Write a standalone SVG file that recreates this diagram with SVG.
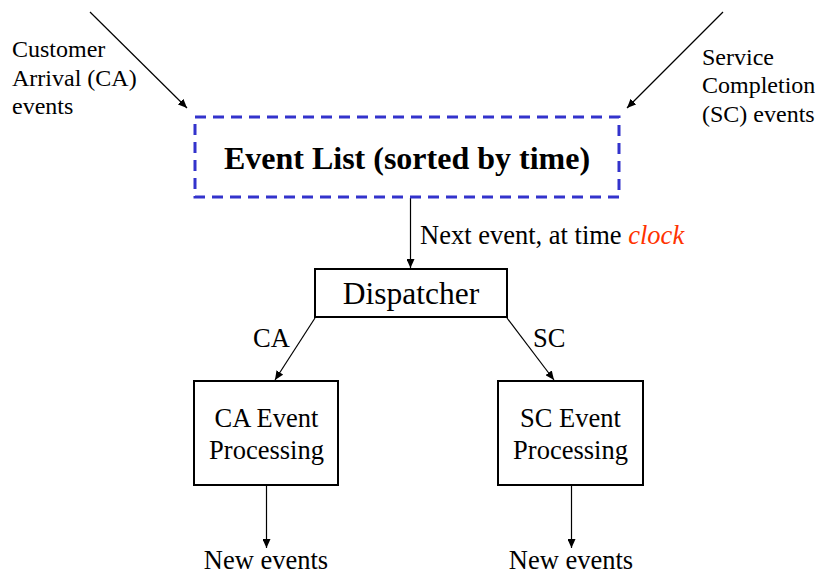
<svg xmlns="http://www.w3.org/2000/svg" width="815" height="574" viewBox="0 0 815 574">
  <style>
    text { font-family: "Liberation Serif", "Times New Roman", serif; fill: #000; }
    .side { font-size: 24px; }
    .lbl { font-size: 26.5px; }
    .box { fill: #fff; stroke: #000; stroke-width: 2; }
    .conn { fill: none; stroke: #000; stroke-width: 1.2; marker-end: url(#arrow); }
  </style>
  <defs>
    <marker id="arrow" markerUnits="userSpaceOnUse" markerWidth="10" markerHeight="8" refX="9" refY="4" orient="auto">
      <path d="M0,0 L9,4 L0,8 Z" fill="#000"/>
    </marker>
  </defs>

  <!-- connectors -->
  <g id="connectors">
    <line class="conn" x1="90" y1="12" x2="187" y2="108"/>
    <line class="conn" x1="723" y1="12" x2="627" y2="108"/>
    <line class="conn" x1="410.5" y1="198" x2="410.5" y2="268"/>
    <line class="conn" x1="315" y1="318" x2="275" y2="380"/>
    <line class="conn" x1="507" y1="318" x2="554" y2="380"/>
    <line class="conn" x1="266.5" y1="486" x2="266.5" y2="548"/>
    <line class="conn" x1="571.5" y1="486" x2="571.5" y2="548"/>
  </g>

  <!-- edge labels -->
  <g id="edge-labels">
    <text class="lbl" x="420" y="244">Next event, at time <tspan fill="#ff3300" font-style="italic">clock</tspan></text>
    <text class="lbl" x="253" y="347">CA</text>
    <text class="lbl" x="533" y="347">SC</text>
  </g>

  <g id="ca-source">
    <text class="side" x="12" y="57">Customer</text>
    <text class="side" x="12" y="86">Arrival (CA)</text>
    <text class="side" x="12" y="114">events</text>
  </g>

  <g id="sc-source">
    <text class="side" x="702" y="65">Service</text>
    <text class="side" x="702" y="93">Completion</text>
    <text class="side" x="702" y="122">(SC) events</text>
  </g>

  <g id="event-list">
    <rect x="195" y="117" width="424" height="80" fill="#fff" stroke="#3333cc" stroke-width="3" stroke-dasharray="11 7"/>
    <text x="407" y="169" font-size="32" font-weight="bold" text-anchor="middle">Event List (sorted by time)</text>
  </g>

  <g id="dispatcher">
    <rect class="box" x="315" y="269" width="192" height="48"/>
    <text x="411" y="304" font-size="31.5" text-anchor="middle">Dispatcher</text>
  </g>

  <g id="ca-processing">
    <rect class="box" x="194" y="381" width="144" height="104"/>
    <text class="lbl" x="266.5" y="427" text-anchor="middle">CA Event</text>
    <text class="lbl" x="266.5" y="459" text-anchor="middle">Processing</text>
  </g>

  <g id="sc-processing">
    <rect class="box" x="498" y="381" width="145" height="104"/>
    <text class="lbl" x="570.5" y="427" text-anchor="middle">SC Event</text>
    <text class="lbl" x="570.5" y="459" text-anchor="middle">Processing</text>
  </g>

  <g id="ca-output">
    <text class="lbl" x="266" y="569" text-anchor="middle">New events</text>
  </g>

  <g id="sc-output">
    <text class="lbl" x="571" y="569" text-anchor="middle">New events</text>
  </g>
</svg>
